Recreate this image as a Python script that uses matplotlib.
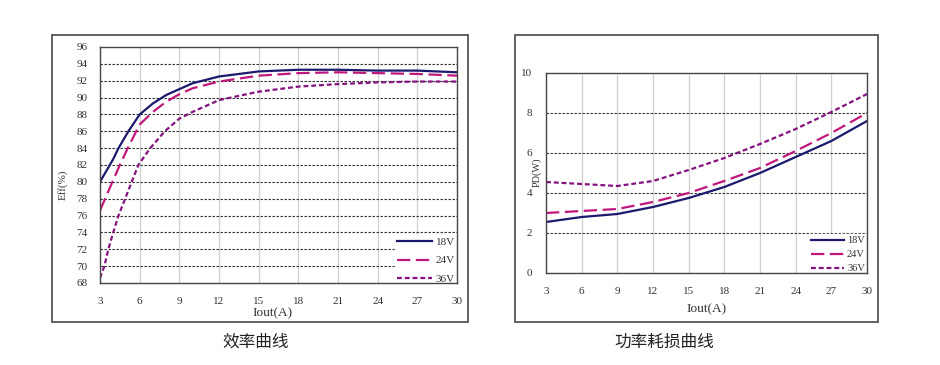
import matplotlib
matplotlib.use("Agg")
import matplotlib.pyplot as plt
from matplotlib.patches import Rectangle

# efficiency curve data
eff_x18 = [3, 4, 4.4, 5.15, 6, 7, 8, 9, 10, 12, 15, 18, 21, 24, 27, 30]
eff_y18 = [80, 82.7, 84, 86, 88, 89.3, 90.3, 91, 91.7, 92.5, 93.1, 93.3, 93.3, 93.2, 93.2, 93.0]
eff_x24 = [3, 3.8, 4.5, 5.1, 6, 7, 8, 9, 10, 12, 15, 18, 21, 24, 27, 30]
eff_y24 = [76.6, 79.5, 82, 84, 86.8, 88.3, 89.5, 90.4, 91.1, 91.9, 92.6, 92.9, 93.0, 92.9, 92.8, 92.6]
eff_x36 = [3, 3.33, 3.63, 4.0, 4.4, 5.0, 5.4, 5.9, 6.8, 7.9, 9, 10, 12, 15, 18, 21, 24, 27, 30]
eff_y36 = [68.6, 70, 72, 74, 76, 78.4, 80, 82, 84, 86, 87.5, 88.3, 89.7, 90.7, 91.3, 91.6, 91.8, 91.9, 91.9]

# power dissipation data
pd_x = [3, 6, 9, 12, 15, 18, 21, 24, 27, 30]
pd_18 = [2.55, 2.8, 2.95, 3.3, 3.75, 4.3, 5.0, 5.8, 6.6, 7.6]
pd_24 = [3.0, 3.1, 3.2, 3.55, 4.0, 4.6, 5.25, 6.1, 7.0, 8.0]
pd_36 = [4.55, 4.45, 4.35, 4.6, 5.15, 5.75, 6.45, 7.2, 8.05, 8.95]

x_ticks = [3, 6, 9, 12, 15, 18, 21, 24, 27, 30]
eff_ticks = list(range(68, 97, 2))
pd_ticks = [0, 2, 4, 6, 8, 10]
labels = ["18V", "24V", "36V"]

c18 = "#1c1a6e"
c24 = "#c0177c"
c36 = "#84127f"
serif = "Liberation Serif"
txt = "#333333"

W, H = 940, 365
fig = plt.figure(figsize=(W / 100, H / 100), dpi=100)

def box(x0, y0, x1, y1):
    fig.patches.append(Rectangle((x0 / W, 1 - y1 / H), (x1 - x0) / W, (y1 - y0) / H,
                                 transform=fig.transFigure, fill=False,
                                 edgecolor="#555555", lw=1.3))

def style(ax, yticks, hgrid, xpad, ypad):
    ax.set_xlim(3, 30)
    ax.set_xticks(x_ticks)
    ax.set_yticks(yticks)
    for v in x_ticks[1:-1]:
        ax.axvline(v, color="#cfcfcf", lw=0.9, zorder=0)
    for v in hgrid:
        ax.axhline(v, color="#333333", lw=0.8, ls=(0, (2.2, 1.4)), zorder=0)
    ax.tick_params(axis="x", length=0, labelsize=8, pad=xpad, labelcolor=txt)
    ax.tick_params(axis="y", length=0, labelsize=8, pad=ypad, labelcolor=txt)
    for t in ax.get_xticklabels() + ax.get_yticklabels():
        t.set_fontfamily(serif)
    for s in ax.spines.values():
        s.set_color("#444444")
        s.set_linewidth(1.0)
        s.set_zorder(6)

def legend(ax, size, spacing):
    lg = ax.legend(labels, loc="lower right", bbox_to_anchor=(1, -0.012),
                   frameon=True, fancybox=False, edgecolor="white",
                   facecolor="white", framealpha=1, handlelength=3.2,
                   handletextpad=0.3, labelspacing=spacing, borderpad=0.2,
                   borderaxespad=0.0, prop={"family": serif, "size": size})
    for t in lg.get_texts():
        t.set_color(txt)
    lg.set_zorder(5)

# left chart
box(52, 35, 468, 322)
ax1 = fig.add_axes([100 / W, 1 - 283 / H, 357 / W, 236 / H])
ax1.plot(eff_x18, eff_y18, color=c18, lw=1.6)
ax1.plot(eff_x24, eff_y24, color=c24, lw=1.6, ls=(0, (6, 2.5)))
ax1.plot(eff_x36, eff_y36, color=c36, lw=1.6, ls=(0, (2.2, 1.3)))
ax1.set_ylim(68, 96)
style(ax1, eff_ticks, eff_ticks[1:-1], 10, 9)
ax1.set_xlabel("Iout(A)", fontfamily=serif, fontsize=9.5, color=txt)
ax1.xaxis.set_label_coords((273 - 100) / 357, -(312 - 283) / 236 + 0.02)
ax1.set_ylabel("Eff(%)", fontfamily=serif, fontsize=8, color=txt)
ax1.yaxis.set_label_coords(-(100 - 68) / 357, (283 - 185) / 236)
legend(ax1, 8, 0.75)

# right chart
box(515, 35, 878, 322)
ax2 = fig.add_axes([546 / W, 1 - 273 / H, 321 / W, 200 / H])
ax2.plot(pd_x, pd_18, color=c18, lw=1.6)
ax2.plot(pd_x, pd_24, color=c24, lw=1.6, ls=(0, (6, 2.5)))
ax2.plot(pd_x, pd_36, color=c36, lw=1.6, ls=(0, (2.2, 1.3)))
ax2.set_ylim(0, 10)
style(ax2, pd_ticks, pd_ticks[1:-1], 10, 10)
ax2.set_xlabel("Iout(A)", fontfamily=serif, fontsize=9.5, labelpad=5, color=txt)
ax2.set_ylabel("PD(W)", fontfamily=serif, fontsize=7.5, color=txt)
ax2.yaxis.set_label_coords(-(546 - 542) / 321, (273 - 172) / 200)
legend(ax2, 7.5, 0.45)

cjk = ["Noto Sans CJK SC", "DejaVu Sans"]
fig.text(256 / W, 1 - 342 / H, "效率曲线", ha="center", va="center",
         fontsize=12, family=cjk, color="#222222")
fig.text(664 / W, 1 - 342 / H, "功率耗损曲线", ha="center", va="center",
         fontsize=12, family=cjk, color="#222222")

fig.savefig("out.png", dpi=100)
